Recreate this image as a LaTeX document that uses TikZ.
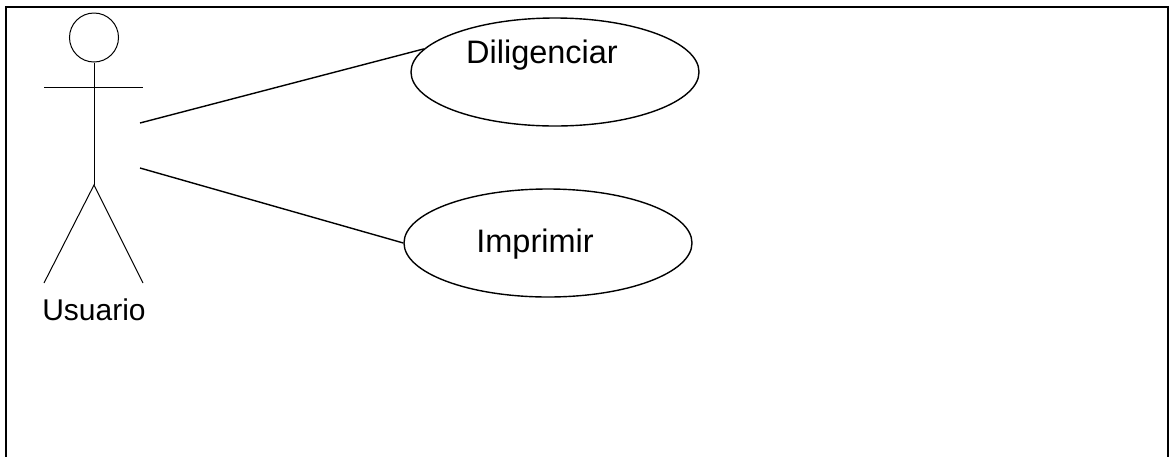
\documentclass[tikz,border=0pt]{standalone}
\usepackage{fontspec}
\setmainfont{Liberation Sans}
\usetikzlibrary{shapes.geometric}

\begin{document}
\begin{tikzpicture}[x=1pt, y=-1pt]
  \tikzstyle{usecase} = [ellipse, draw, line width=1.4pt, minimum width=288pt,
                         minimum height=108pt, inner sep=0pt]
  \tikzstyle{caption} = [font=\fontsize{30}{36}\selectfont, anchor=base, inner sep=0pt]
  \tikzstyle{limb} = [line width=1pt]

\useasboundingbox (0,0) rectangle (1170,456);
\draw[line width=2.4pt] (6,457) -- (6,7) -- (1168,7) -- (1168,457);

% actor
\node[circle, draw, limb, minimum size=49pt, inner sep=0pt] (head) at (94,37.5) {};
\coordinate (hip) at (94,185);
\coordinate (lhand) at (44,87);
\coordinate (rhand) at (143,87);
\coordinate (lfoot) at (44,283);
\coordinate (rfoot) at (143,283);
\draw[limb] (head.south) -- (hip);
\draw[limb] (lhand) -- (rhand);
\draw[limb] (lfoot) -- (hip) -- (rfoot);
\node[caption] (usuario) at (94,320) {Usuario};

% use cases
\node[usecase] (dil) at (555,72) {};
\node[usecase] (imp) at (548,243) {};
\node[caption, font=\fontsize{32.5}{38}\selectfont] (diltext) at (542,63) {Diligenciar};
\node[caption, font=\fontsize{32.5}{38}\selectfont] (imptext) at (535,252) {Imprimir};

\coordinate (assoc1) at (140,123);
\coordinate (assoc2) at (140,168);
\draw[line width=1.4pt] (assoc1) -- (dil.170);
\draw[line width=1.4pt] (assoc2) -- (imp.west);
\end{tikzpicture}
\end{document}
